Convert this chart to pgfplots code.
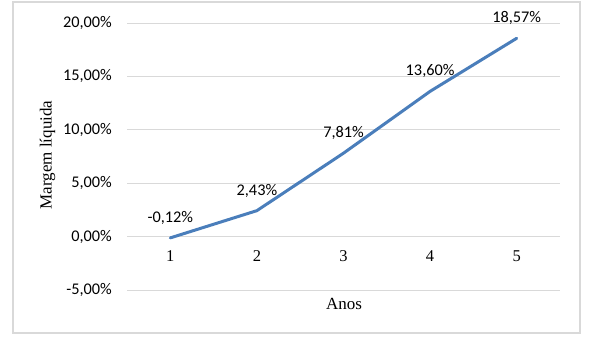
\documentclass[border=0pt]{standalone}
\usepackage{fontspec}
\setmainfont{Liberation Serif}
\newfontfamily\calibri{Carlito}
\usepackage{pgfplots}
\pgfplotsset{compat=1.18}
\definecolor{excelblue}{HTML}{4A7EBB}
\definecolor{gridgray}{HTML}{D9D9D9}
\begin{document}
\begin{tikzpicture}[x=1pt,y=1pt]
\path[use as bounding box] (0,0) rectangle (596,339);
\draw[gridgray, line width=1.2pt] (13,6) rectangle (580,337);
\begin{axis}[
  at={(127pt,49pt)}, anchor=south west,
  scale only axis, width=433pt, height=267pt,
  xmin=0.5, xmax=5.5, ymin=-5, ymax=20,
  xtick={1,2,3,4,5},
  xticklabels={1,2,3,4,5},
  ytick={-5,0,5,10,15,20},
  yticklabels={{-5,00\%},{0,00\%},{5,00\%},{10,00\%},{15,00\%},{20,00\%}},
  axis line style={draw=none}, major tick length=0pt,
  ymajorgrids, grid style={gridgray, line width=0.9pt},
  yticklabel style={font=\calibri\fontsize{16.3}{19}\selectfont, text=black, anchor=east, inner sep=0pt, xshift=-15pt},
  xticklabel style={font=\rmfamily\fontsize{16.5}{19}\selectfont, text=black, anchor=center, inner sep=0pt, yshift=34pt},
  point meta=explicit symbolic,
  nodes near coords={\pgfplotspointmeta},
  nodes near coords style={font=\calibri\fontsize{16.3}{19}\selectfont, anchor=center, yshift=20pt, text=black, inner sep=0pt},
  clip=false,
]
\addplot[excelblue, line width=3pt, line join=round, line cap=round] coordinates {
  (1,-0.12) [-0,12\%]
  (2,2.43) [2,43\%]
  (3,7.81) [7,81\%]
  (4,13.60) [13,60\%]
  (5,18.57) [18,57\%]
};
\end{axis}
\node[rotate=90, font=\fontsize{17}{20}\selectfont] at (47.5,184) {Margem líquida};
\node[font=\fontsize{17}{20}\selectfont] at (344,35) {Anos};
\end{tikzpicture}
\end{document}
